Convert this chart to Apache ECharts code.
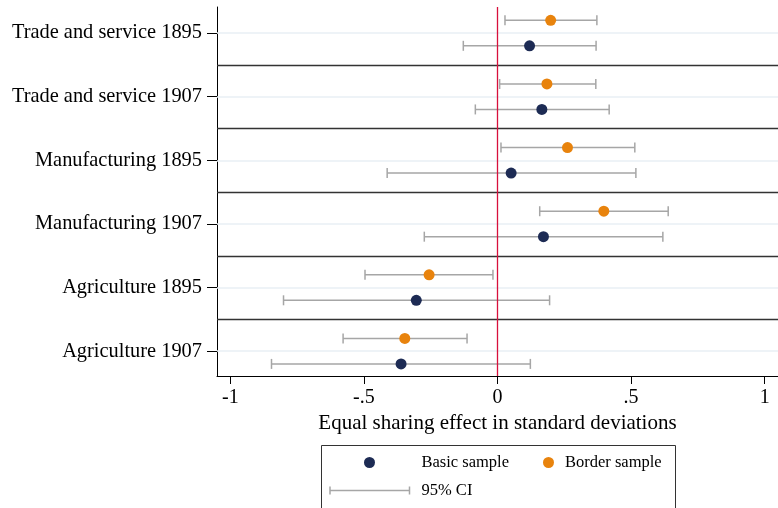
<!DOCTYPE html>
<html><head><meta charset="utf-8">
<script src="https://cdn.jsdelivr.net/npm/echarts@6/dist/echarts.min.js"></script>
<style>html,body{margin:0;padding:0;background:#fff}#c{width:778px;height:508px}</style>
</head><body><div id="c"></div>
<script>
const categories = ['Trade and service 1895','Trade and service 1907','Manufacturing 1895','Manufacturing 1907','Agriculture 1895','Agriculture 1907'];
const basicEst  = [0.120, 0.166, 0.051, 0.172, -0.304, -0.361];
const basicLow  = [-0.128, -0.083, -0.413, -0.274, -0.801, -0.846];
const basicHigh = [0.369, 0.418, 0.518, 0.619, 0.195, 0.123];
const borderEst  = [0.199, 0.185, 0.262, 0.398, -0.256, -0.347];
const borderLow  = [0.028, 0.008, 0.013, 0.158, -0.496, -0.578];
const borderHigh = [0.372, 0.368, 0.514, 0.639, -0.017, -0.114];
const xTicks = [-1, -0.5, 0, 0.5, 1];
const xTickLabels = ['-1', '-.5', '0', '.5', '1'];
const referenceX = 0;
const seriesNames = ['Basic sample', 'Border sample', '95% CI'];
const xTitle = 'Equal sharing effect in standard deviations';

const OFF = 0.2;
const Y_MIN = -0.41, Y_MAX = 5.39;
const FONT = 'Liberation Serif';
const NAVY = '#1d2b54', ORANGE = '#e8830d', GREY = '#a6a6a6', RED = '#d8103c';

const catIdx = categories.map((c, i) => i);
const basicPts = basicEst.map((v, i) => [v, i + OFF]);
const borderPts = borderEst.map((v, i) => [v, i - OFF]);
const ciData = basicLow.map((l, i) => [l, basicHigh[i], i + OFF])
  .concat(borderLow.map((l, i) => [l, borderHigh[i], i - OFF]));

const chart = echarts.init(document.getElementById('c'), null, {renderer: 'canvas'});
const legendText = {fontFamily: FONT, fontSize: 16.5, fill: '#000', verticalAlign: 'middle', align: 'left'};
const ciStroke = {stroke: GREY, lineWidth: 1.5};
chart.setOption({
  animation: false,
  backgroundColor: '#fff',
  grid: {left: 217, top: 7, width: 563, height: 369, containLabel: false},
  xAxis: {
    type: 'value', min: -1.05, max: 1.05,
    axisLine: {show: true, onZero: false, lineStyle: {color: '#000', width: 1}},
    axisTick: {show: true, length: 8, customValues: xTicks, lineStyle: {color: '#000', width: 1}},
    axisLabel: {customValues: xTicks, margin: 12, color: '#000', fontFamily: FONT, fontSize: 20,
      formatter: v => xTickLabels[xTicks.indexOf(v)]},
    splitLine: {show: false},
    name: xTitle, nameLocation: 'middle', nameGap: 32,
    nameTextStyle: {color: '#000', fontFamily: FONT, fontSize: 21}
  },
  yAxis: {
    type: 'value', inverse: true, min: Y_MIN, max: Y_MAX,
    axisLine: {show: true, onZero: false, lineStyle: {color: '#000', width: 1}},
    axisTick: {show: true, length: 10, customValues: catIdx, lineStyle: {color: '#000', width: 1}},
    axisLabel: {customValues: catIdx, margin: 15, color: '#000', fontFamily: FONT, fontSize: 20.4,
      formatter: v => categories[Math.round(v)]},
    splitLine: {show: false}
  },
  legend: {show: false},
  graphic: [
    {type: 'rect', shape: {x: 321.5, y: 445.5, width: 354, height: 80},
      style: {fill: 'none', stroke: '#333', lineWidth: 1}, silent: true, z: 0},
    {type: 'circle', shape: {cx: 369.5, cy: 462.5, r: 5.5}, style: {fill: NAVY}, silent: true},
    {type: 'text', x: 421.5, y: 462.5, style: Object.assign({text: seriesNames[0]}, legendText), silent: true},
    {type: 'circle', shape: {cx: 548.5, cy: 462.5, r: 5.5}, style: {fill: ORANGE}, silent: true},
    {type: 'text', x: 565, y: 462.5, style: Object.assign({text: seriesNames[1]}, legendText), silent: true},
    {type: 'line', shape: {x1: 330, y1: 490.5, x2: 409.5, y2: 490.5}, style: ciStroke, silent: true},
    {type: 'line', shape: {x1: 330, y1: 486.5, x2: 330, y2: 494.5}, style: ciStroke, silent: true},
    {type: 'line', shape: {x1: 409.5, y1: 486.5, x2: 409.5, y2: 494.5}, style: ciStroke, silent: true},
    {type: 'text', x: 421.5, y: 490.5, style: Object.assign({text: seriesNames[2]}, legendText), silent: true}
  ],
  series: [
    {type: 'scatter', name: 'grid', data: [], z: 1, silent: true,
      markLine: {symbol: 'none', silent: true, label: {show: false},
        data: catIdx.map(i => ({yAxis: i, lineStyle: {color: '#e9eff5', width: 1.5, type: 'solid'}}))
          .concat([0.5, 1.5, 2.5, 3.5, 4.5].map(v => ({yAxis: v, lineStyle: {color: '#333', width: 1.3, type: 'solid'}})))
      }},
    {type: 'custom', name: seriesNames[2], data: ciData, z: 2, encode: {x: [0, 1], y: 2},
      itemStyle: {color: GREY}, silent: true,
      renderItem: function (params, api) {
        const lo = api.coord([api.value(0), api.value(2)]);
        const hi = api.coord([api.value(1), api.value(2)]);
        const h = 5;
        return {type: 'group', children: [
          {type: 'line', shape: {x1: lo[0], y1: lo[1], x2: hi[0], y2: hi[1]}, style: ciStroke},
          {type: 'line', shape: {x1: lo[0], y1: lo[1] - h, x2: lo[0], y2: lo[1] + h}, style: ciStroke},
          {type: 'line', shape: {x1: hi[0], y1: hi[1] - h, x2: hi[0], y2: hi[1] + h}, style: ciStroke}
        ]};
      }},
    {type: 'line', name: 'zero', data: [[referenceX, Y_MIN], [referenceX, Y_MAX]], z: 10, silent: true,
      symbol: 'none', showSymbol: false, itemStyle: {color: RED},
      lineStyle: {color: RED, width: 1.3, type: 'solid', opacity: 1}, emphasis: {disabled: true}},
    {type: 'scatter', name: seriesNames[0], data: basicPts, symbolSize: 11, z: 11,
      itemStyle: {color: NAVY, opacity: 1}},
    {type: 'scatter', name: seriesNames[1], data: borderPts, symbolSize: 11, z: 11,
      itemStyle: {color: ORANGE, opacity: 1}}
  ]
});
</script>
</body></html>
